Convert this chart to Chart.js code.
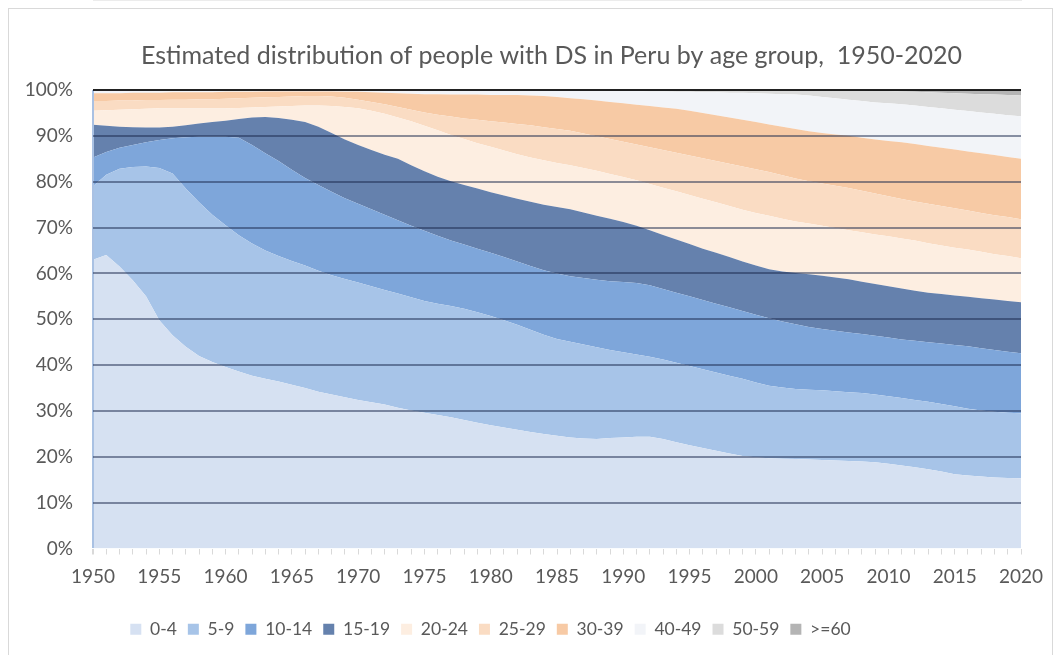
<!DOCTYPE html>
<html>
<head>
<meta charset="utf-8">
<script src="https://cdn.jsdelivr.net/npm/chart.js@4.4.1/dist/chart.umd.min.js"></script>
<style>
  html, body { margin: 0; padding: 0; background: #ffffff; }
  #wrap { position: relative; width: 1060px; height: 655px; overflow: hidden; }
  #frame { position: absolute; left: 8px; top: 8px; width: 1043px; height: 660px; border: 1px solid #d9d9d9; pointer-events: none; }
</style>
</head>
<body>
<div id="wrap">
  <canvas id="ageChart" width="1060" height="655"></canvas>
  <div id="frame"></div>
</div>
<script>
// years on the x axis
const years = [
  1950,1951,1952,1953,1954,1955,1956,1957,1958,1959,
  1960,1961,1962,1963,1964,1965,1966,1967,1968,1969,
  1970,1971,1972,1973,1974,1975,1976,1977,1978,1979,
  1980,1981,1982,1983,1984,1985,1986,1987,1988,1989,
  1990,1991,1992,1993,1994,1995,1996,1997,1998,1999,
  2000,2001,2002,2003,2004,2005,2006,2007,2008,2009,
  2010,2011,2012,2013,2014,2015,2016,2017,2018,2019,2020
];

const ageGroups = ['0-4', '5-9', '10-14', '15-19', '20-24', '25-29', '30-39', '40-49', '50-59', '>=60'];

// share of each age group (%)
const share0to4 = [
  63.0,64.0,61.5,58.5,55.0,49.8,46.5,44.0,42.0,40.7,
  39.6,38.6,37.7,37.0,36.4,35.7,35.0,34.2,33.6,33.0,
  32.4,31.9,31.4,30.7,30.1,29.6,29.1,28.6,28.0,27.4,
  26.9,26.4,25.9,25.4,25.0,24.6,24.2,24.0,23.9,24.1,
  24.2,24.4,24.4,23.9,23.2,22.5,21.9,21.3,20.7,20.2,
  19.9,19.7,19.6,19.5,19.4,19.3,19.2,19.1,19.0,18.8,
  18.5,18.1,17.7,17.3,16.8,16.2,15.9,15.7,15.5,15.4,15.3
];
const share5to9 = [
  16.0,17.5,21.3,24.7,28.3,33.2,35.3,34.5,33.5,32.1,
  30.9,29.7,28.8,28.0,27.4,27.0,26.7,26.4,26.0,25.8,
  25.6,25.3,25.0,24.9,24.7,24.4,24.3,24.3,24.3,24.1,
  23.8,23.4,22.9,22.3,21.6,21.1,20.9,20.5,20.0,19.2,
  18.6,17.9,17.4,17.3,17.3,17.3,17.2,17.1,17.0,16.8,
  16.3,15.8,15.5,15.3,15.2,15.2,15.1,15.0,14.9,14.8,
  14.7,14.7,14.7,14.7,14.7,14.8,14.6,14.4,14.3,14.2,14.2
];
const share10to14 = [
  6.3,5.0,4.6,4.8,5.3,6.1,7.7,11.2,14.3,17.0,
  19.3,21.3,21.5,21.2,20.7,19.9,19.1,18.7,18.2,17.6,
  17.2,16.8,16.4,16.0,15.6,15.3,14.8,14.3,14.0,13.9,
  13.8,13.8,13.8,13.9,14.1,14.3,14.3,14.5,14.7,15.0,
  15.3,15.6,15.6,15.4,15.3,15.2,15.1,15.0,14.9,14.8,
  14.8,14.7,14.4,14.1,13.7,13.4,13.2,13.0,12.9,12.8,
  12.8,12.8,12.9,13.0,13.2,13.4,13.6,13.6,13.5,13.3,13.1
];
const share15to19 = [
  7.1,5.7,4.6,3.9,3.2,2.7,2.5,2.6,2.9,3.2,
  3.5,4.1,6.0,7.9,9.4,10.9,12.2,12.7,12.8,12.8,
  12.8,12.9,13.1,13.4,13.2,13.0,12.9,12.9,13.0,13.1,
  13.2,13.4,13.7,14.0,14.3,14.5,14.6,14.3,14.0,13.6,
  13.1,12.5,12.0,11.8,11.6,11.4,11.2,11.1,11.0,10.8,
  10.7,10.7,10.9,11.2,11.5,11.6,11.6,11.6,11.4,11.3,
  11.2,11.1,10.9,10.8,10.8,10.8,10.8,10.9,11.0,11.1,11.1
];
const share20to24 = [
  3.1,3.4,3.7,3.9,4.1,4.2,4.0,3.7,3.3,3.0,
  2.7,2.4,2.2,2.2,2.5,3.0,3.6,4.6,5.9,7.1,
  8.0,8.6,8.9,9.0,9.6,9.9,10.1,10.1,10.0,9.9,
  9.9,9.8,9.7,9.7,9.7,9.6,9.6,9.7,9.8,9.8,
  9.8,9.9,10.1,10.3,10.5,10.7,10.9,11.0,11.1,11.3,
  11.5,11.7,11.5,11.2,11.1,10.9,10.8,10.7,10.8,10.8,
  10.9,10.9,11.0,10.8,10.6,10.4,10.3,10.1,9.9,9.8,9.6
];
const share25to29 = [
  2.1,2.0,2.0,1.9,1.9,1.8,1.9,1.9,2.0,2.0,
  2.1,2.1,2.1,2.1,2.1,2.1,2.1,2.1,2.1,2.0,
  1.9,1.9,2.1,2.3,2.5,2.9,3.4,4.0,4.5,5.1,
  5.6,6.1,6.6,7.0,7.2,7.4,7.5,7.5,7.5,7.6,
  7.7,7.8,8.0,8.2,8.4,8.6,8.8,9.0,9.2,9.4,
  9.5,9.5,9.5,9.4,9.2,9.2,9.2,9.2,9.0,8.9,
  8.7,8.6,8.5,8.6,8.6,8.6,8.5,8.5,8.5,8.5,8.5
];
const share30to39 = [
  1.7,1.7,1.6,1.7,1.6,1.6,1.6,1.6,1.5,1.5,
  1.5,1.4,1.3,1.3,1.2,1.1,1.0,1.0,1.1,1.3,
  1.7,2.1,2.5,3.0,3.5,4.0,4.5,4.8,5.2,5.5,
  5.7,6.0,6.3,6.5,6.8,7.0,7.1,7.5,7.8,8.1,
  8.4,8.7,9.0,9.3,9.6,9.8,9.9,10.0,10.1,10.2,
  10.3,10.4,10.6,10.8,10.9,11.0,11.2,11.4,11.6,11.8,
  12.1,12.4,12.5,12.6,12.7,12.8,12.9,13.0,13.1,13.1,13.2
];
const share40to49 = [
  0.7,0.7,0.7,0.6,0.6,0.6,0.5,0.5,0.5,0.5,
  0.4,0.4,0.4,0.3,0.3,0.3,0.3,0.3,0.3,0.4,
  0.4,0.5,0.6,0.7,0.8,0.9,0.9,1.0,1.0,1.0,
  1.1,1.1,1.1,1.2,1.3,1.4,1.7,1.9,2.2,2.4,
  2.7,3.0,3.2,3.5,3.7,4.1,4.5,5.0,5.4,5.9,
  6.3,6.7,7.1,7.5,7.8,7.9,7.9,7.9,8.0,8.1,
  8.2,8.3,8.4,8.5,8.6,8.7,8.8,8.9,9.0,9.1,9.3
];
const share50to59 = [
  0,0,0,0,0,0,0,0,0,0,
  0,0,0,0,0,0,0,0,0,0,
  0,0,0,0,0,0,0,0,0,0,
  0,0,0,0,0,0.1,0.1,0.1,0.1,0.2,
  0.2,0.2,0.3,0.3,0.4,0.4,0.5,0.5,0.6,0.6,
  0.7,0.8,0.9,1.0,1.2,1.5,1.7,2.0,2.3,2.5,
  2.7,2.8,3.0,3.2,3.4,3.6,3.8,4.0,4.2,4.4,4.5
];
const share60plus = [
  0,0,0,0,0,0,0,0,0,0,
  0,0,0,0,0,0,0,0,0,0,
  0,0,0,0,0,0,0,0,0,0,
  0,0,0,0,0,0,0,0,0,0,
  0,0,0,0,0,0,0,0,0,0,
  0,0,0,0,0,0,0.1,0.1,0.1,0.2,
  0.2,0.3,0.4,0.5,0.6,0.7,0.8,0.9,1.0,1.1,1.2
];

const yTicks = [0, 10, 20, 30, 40, 50, 60, 70, 80, 90, 100];

const allShares = [share0to4, share5to9, share10to14, share15to19, share20to24,
                   share25to29, share30to39, share40to49, share50to59, share60plus];

const AREA_COLORS = [
  '#d6e1f2', '#a7c4e8', '#7ea6da', '#6581ad',
  '#fdeee1', '#fadcc3', '#f7caa5',
  '#f2f4f8', '#dcdcdc', '#b4b4b4'
];

const FONT = 'Lato, "Open Sans", sans-serif';
const TEXT_COLOR = '#595959';

// in the original the title sits right of centre and the legend left of it
const boxNudge = {
  id: 'boxNudge',
  afterLayout(chart) {
    const title = chart.titleBlock;
    if (title) {
      title.left += 30;
      title.right += 30;
    }
    if (chart.legend) {
      chart.legend.left -= 31;
      chart.legend.right -= 31;
    }
  }
};

const ctx = document.getElementById('ageChart').getContext('2d');

new Chart(ctx, {
  type: 'line',
  data: {
    labels: years,
    datasets: ageGroups.map((name, i) => ({
      label: name,
      data: allShares[i],
      backgroundColor: AREA_COLORS[i],
      borderColor: AREA_COLORS[i],
      borderWidth: 0,
      pointRadius: 0,
      tension: 0,
      fill: i === 0 ? 'origin' : '-1'
    }))
  },
  options: {
    responsive: false,
    animation: false,
    layout: { padding: { left: 22, right: 39, top: 0, bottom: 7 } },
    plugins: {
      title: {
        display: true,
        text: 'Estimated distribution of people with DS in Peru by age group,  1950-2020',
        color: TEXT_COLOR,
        font: { family: FONT, size: 25, weight: 'normal' },
        padding: { top: 41, bottom: 19 }
      },
      legend: {
        position: 'bottom',
        labels: {
          boxWidth: 11,
          boxHeight: 11,
          padding: 11,
          color: TEXT_COLOR,
          font: { family: FONT, size: 17.5 }
        }
      },
      tooltip: { enabled: false }
    },
    scales: {
      x: {
        afterFit: (scale) => { scale.height = 61; },
        grid: {
          z: 1,
          drawOnChartArea: true,
          drawTicks: true,
          tickLength: 6,
          lineWidth: (c) => (c.index === 0 ? 2 : 1),
          color: (c) => (c.index === 0 ? '#a9c1e3' : 'rgba(0,0,0,0)'),
          tickColor: '#d9d9d9'
        },
        border: { color: '#d9d9d9' },
        ticks: {
          autoSkip: false,
          maxRotation: 0,
          padding: 11,
          color: TEXT_COLOR,
          font: { family: FONT, size: 19 },
          callback: function(value, index) {
            const yr = years[index];
            return yr % 5 === 0 ? String(yr) : '';
          }
        }
      },
      y: {
        stacked: true,
        min: yTicks[0],
        max: yTicks[yTicks.length - 1],
        afterFit: (scale) => { scale.width = 71; },
        grid: {
          z: 1,
          lineWidth: 2,
          drawTicks: false,
          color: (c) => {
            if (c.tick.value === 100) return 'rgba(10,10,10,0.9)';
            if (c.tick.value === 0) return 'rgba(0,0,0,0)';
            return 'rgba(25,40,75,0.5)';
          }
        },
        border: { display: false },
        ticks: {
          stepSize: 10,
          padding: 20,
          color: TEXT_COLOR,
          font: { family: FONT, size: 19 },
          callback: (v) => v + '%'
        }
      }
    }
  },
  plugins: [boxNudge]
});
</script>
</body>
</html>
